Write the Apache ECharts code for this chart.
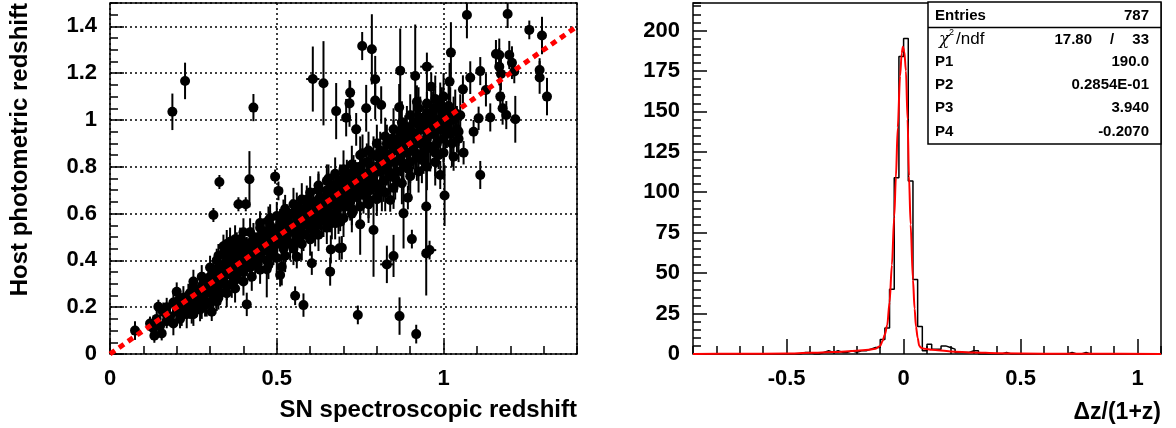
<!DOCTYPE html>
<html><head><meta charset="utf-8">
<script src="https://cdn.jsdelivr.net/npm/echarts@6/dist/echarts.min.js"></script>
<style>html,body{margin:0;padding:0;background:#fff}#c{width:1176px;height:428px}</style>
</head><body><div id="c"></div>
<script>
// ---- Left panel: host photo-z vs SN spec-z. [zSpec, zPhot, zPhotErr]
const bandPoints = [
[0.12,0.13,0.03],[0.13,0.11,0.03],[0.14,0.15,0.04],[0.15,0.12,0.03],[0.16,0.18,0.04],[0.17,0.14,0.03],[0.17,0.20,0.04],[0.18,0.16,0.04],[0.19,0.13,0.05],[0.19,0.22,0.04],
[0.20,0.18,0.04],[0.21,0.20,0.05],[0.21,0.15,0.04],[0.22,0.24,0.05],[0.22,0.19,0.04],[0.23,0.17,0.06],[0.23,0.22,0.04],[0.24,0.26,0.05],[0.24,0.20,0.05],[0.25,0.23,0.04],
[0.25,0.28,0.05],[0.26,0.21,0.05],[0.26,0.25,0.04],[0.27,0.27,0.05],[0.27,0.19,0.05],[0.28,0.24,0.05],[0.28,0.30,0.05],[0.29,0.26,0.04],[0.29,0.22,0.06],[0.30,0.28,0.05],
[0.30,0.33,0.05],[0.31,0.25,0.05],[0.31,0.30,0.04],[0.31,0.36,0.05],[0.32,0.28,0.05],[0.32,0.33,0.06],[0.32,0.40,0.05],[0.33,0.30,0.05],[0.33,0.35,0.04],[0.33,0.26,0.05],
[0.34,0.38,0.06],[0.34,0.32,0.05],[0.34,0.43,0.05],[0.35,0.36,0.05],[0.35,0.29,0.06],[0.35,0.40,0.04],[0.36,0.34,0.05],[0.36,0.45,0.06],[0.36,0.38,0.05],[0.37,0.31,0.05],
[0.37,0.42,0.05],[0.37,0.36,0.06],[0.38,0.40,0.05],[0.38,0.33,0.05],[0.38,0.46,0.06],[0.39,0.37,0.05],[0.39,0.43,0.05],[0.40,0.35,0.06],[0.40,0.41,0.05],[0.40,0.48,0.05],
[0.41,0.39,0.05],[0.41,0.44,0.06],[0.42,0.37,0.06],[0.42,0.47,0.05],[0.43,0.42,0.05],[0.43,0.50,0.06],[0.44,0.40,0.05],[0.44,0.45,0.06],[0.45,0.48,0.05],[0.45,0.42,0.06],
[0.46,0.52,0.06],[0.46,0.45,0.05],[0.47,0.40,0.06],[0.47,0.49,0.05],[0.48,0.46,0.06],[0.48,0.55,0.06],[0.49,0.50,0.05],[0.49,0.44,0.06],[0.50,0.52,0.06],[0.50,0.47,0.05],
[0.51,0.56,0.06],[0.51,0.50,0.05],[0.52,0.45,0.07],[0.52,0.53,0.06],[0.53,0.58,0.06],[0.53,0.50,0.06],[0.54,0.55,0.05],[0.54,0.47,0.07],[0.55,0.52,0.06],[0.55,0.60,0.06],
[0.56,0.56,0.06],[0.56,0.50,0.07],[0.57,0.62,0.06],[0.57,0.54,0.05],[0.58,0.58,0.06],[0.58,0.51,0.07],[0.59,0.56,0.06],[0.59,0.63,0.06],[0.60,0.60,0.06],[0.60,0.54,0.07],
[0.61,0.65,0.06],[0.61,0.58,0.06],[0.62,0.62,0.07],[0.62,0.55,0.06],[0.63,0.67,0.06],[0.63,0.60,0.07],[0.64,0.64,0.06],[0.64,0.57,0.07],[0.65,0.70,0.07],[0.65,0.62,0.06],
[0.66,0.66,0.07],[0.66,0.59,0.07],[0.67,0.72,0.06],[0.67,0.64,0.07],[0.68,0.68,0.07],[0.68,0.61,0.07],[0.69,0.74,0.07],[0.69,0.66,0.06],[0.70,0.70,0.07],[0.70,0.63,0.08],
[0.71,0.76,0.07],[0.71,0.68,0.07],[0.72,0.72,0.07],[0.72,0.65,0.08],[0.73,0.78,0.07],[0.73,0.70,0.07],[0.74,0.74,0.08],[0.74,0.67,0.07],[0.75,0.80,0.07],[0.75,0.72,0.08],
[0.76,0.76,0.07],[0.76,0.68,0.08],[0.77,0.82,0.08],[0.77,0.74,0.07],[0.78,0.78,0.08],[0.78,0.70,0.08],[0.79,0.85,0.08],[0.79,0.76,0.07],[0.80,0.80,0.08],[0.80,0.72,0.08],
[0.81,0.87,0.08],[0.81,0.78,0.08],[0.82,0.82,0.08],[0.82,0.74,0.09],[0.83,0.90,0.08],[0.83,0.80,0.08],[0.84,0.85,0.09],[0.84,0.76,0.08],[0.85,0.92,0.08],[0.85,0.82,0.09],
[0.86,0.87,0.08],[0.86,0.78,0.09],[0.87,0.95,0.09],[0.87,0.84,0.08],[0.88,0.89,0.09],[0.88,0.80,0.09],[0.89,0.97,0.09],[0.89,0.86,0.08],[0.90,0.92,0.09],[0.90,0.82,0.09],
[0.91,0.99,0.09],[0.91,0.88,0.09],[0.92,0.94,0.09],[0.92,0.84,0.10],[0.93,1.01,0.09],[0.93,0.90,0.09],[0.94,0.96,0.10],[0.94,0.86,0.09],[0.95,1.03,0.09],[0.95,0.92,0.10],
[0.96,0.98,0.09],[0.96,0.88,0.10],[0.97,1.05,0.10],[0.97,0.94,0.09],[0.98,1.00,0.10],[0.98,0.90,0.10],[0.99,1.07,0.09],[0.99,0.96,0.10],[1.00,1.02,0.10],[1.00,0.92,0.10],
[1.01,0.98,0.10],[1.02,1.04,0.10],[1.02,0.94,0.09],[1.03,1.00,0.10],[1.04,0.96,0.10],[1.05,1.02,0.09],
[0.205,0.23,0.04],[0.215,0.17,0.05],[0.225,0.21,0.04],[0.235,0.25,0.05],[0.245,0.18,0.05],[0.255,0.26,0.04],[0.265,0.23,0.05],[0.275,0.29,0.05],[0.285,0.21,0.05],[0.295,0.31,0.05],
[0.305,0.31,0.05],[0.315,0.27,0.05],[0.325,0.37,0.05],[0.335,0.33,0.06],[0.345,0.35,0.05],[0.355,0.42,0.05],[0.365,0.30,0.06],[0.375,0.39,0.05],[0.385,0.36,0.06],[0.395,0.45,0.05],
[0.405,0.38,0.05],[0.415,0.41,0.06],[0.425,0.44,0.05],[0.435,0.38,0.06],[0.445,0.50,0.05],[0.455,0.44,0.06],[0.465,0.47,0.05],[0.475,0.53,0.06],[0.485,0.43,0.06],[0.495,0.48,0.05],
[0.505,0.54,0.06],[0.515,0.47,0.06],[0.525,0.57,0.06],[0.535,0.52,0.05],[0.545,0.60,0.06],[0.555,0.48,0.06],[0.565,0.58,0.06],[0.575,0.52,0.07],[0.585,0.61,0.06],[0.595,0.55,0.06],
[0.605,0.63,0.07],[0.615,0.52,0.06],[0.625,0.66,0.06],[0.635,0.58,0.07],[0.645,0.62,0.06],[0.655,0.68,0.07],[0.665,0.56,0.07],[0.675,0.70,0.06],[0.685,0.64,0.07],[0.695,0.71,0.07],
[0.705,0.66,0.07],[0.715,0.74,0.08],[0.725,0.62,0.07],[0.735,0.76,0.07],[0.745,0.69,0.08],[0.755,0.78,0.07],[0.765,0.71,0.08],[0.775,0.66,0.08],[0.785,0.80,0.08],[0.795,0.73,0.08],
[0.805,0.84,0.08],[0.815,0.70,0.09],[0.825,0.86,0.08],[0.835,0.78,0.09],[0.845,0.89,0.08],[0.855,0.75,0.09],[0.865,0.91,0.09],[0.875,0.82,0.08],[0.885,0.93,0.09],[0.895,0.79,0.09],
[0.905,0.95,0.09],[0.915,0.86,0.09],[0.925,0.98,0.09],[0.935,0.83,0.10],[0.945,1.00,0.09],[0.955,0.89,0.09],[0.965,1.02,0.10],[0.975,0.86,0.10],[0.985,0.97,0.09],[0.995,1.04,0.10],
[1.005,0.95,0.10],[1.015,1.06,0.10],[1.025,0.90,0.10],[1.035,1.03,0.10],[1.045,0.92,0.10],[0.625,0.72,0.06],[0.655,0.75,0.06],[0.59,0.66,0.06],[0.56,0.63,0.06],[0.52,0.60,0.06],
[0.48,0.58,0.06],[0.45,0.56,0.05],[0.42,0.52,0.06],[0.39,0.49,0.05],[0.36,0.48,0.06],[0.34,0.46,0.05],
[0.25,0.17,0.05],[0.30,0.22,0.05],[0.35,0.26,0.06],[0.40,0.31,0.06],[0.45,0.36,0.06],[0.50,0.41,0.06],[0.55,0.45,0.07],[0.60,0.49,0.07],[0.65,0.54,0.07],[0.70,0.58,0.08],
[0.75,0.63,0.08],[0.80,0.67,0.08],[0.85,0.71,0.09],[0.90,0.76,0.09],[0.95,0.80,0.10],[1.00,0.86,0.10],
[0.25,0.31,0.05],[0.30,0.37,0.05],[0.35,0.47,0.06],[0.40,0.52,0.06],[0.45,0.54,0.06],[0.50,0.59,0.06],[0.55,0.64,0.07],[0.60,0.69,0.07],[0.65,0.74,0.07],[0.70,0.79,0.08],
[0.75,0.85,0.08],[0.80,0.90,0.08],[0.85,0.96,0.09],[0.90,1.02,0.09],[0.95,1.07,0.10],[1.00,1.10,0.10],
[0.275,0.20,0.05],[0.325,0.24,0.05],[0.375,0.28,0.06],[0.425,0.33,0.06],[0.475,0.38,0.06],[0.525,0.42,0.07],[0.575,0.47,0.07],[0.625,0.51,0.07],[0.675,0.56,0.07],[0.725,0.60,0.08],
[0.775,0.64,0.08],[0.825,0.69,0.08],[0.875,0.73,0.09],[0.925,0.78,0.09],[0.975,0.82,0.10],
[0.275,0.33,0.05],[0.325,0.42,0.05],[0.375,0.49,0.06],[0.425,0.48,0.06],[0.475,0.57,0.06],[0.525,0.62,0.06],[0.575,0.66,0.07],[0.625,0.70,0.07],[0.675,0.77,0.07],[0.725,0.81,0.08],
[0.775,0.87,0.08],[0.825,0.93,0.08],[0.875,0.99,0.09],[0.925,1.05,0.09],[0.975,1.09,0.10]
];
// [zSpec, zPhot, zPhotErr, zSpecErr]
const outlierPoints = [
[0.075,0.100,0.04,0],[0.133,0.078,0.03,0],[0.155,0.088,0.03,0],[0.125,0.117,0.03,0],[0.145,0.202,0.03,0],
[0.187,1.035,0.078,0],[0.225,1.167,0.078,0],[0.310,0.594,0.03,0],[0.328,0.735,0.03,0],[0.385,0.640,0.03,0.01],
[0.407,0.640,0.03,0.01],[0.418,0.747,0.12,0],[0.410,0.212,0.05,0],[0.430,1.053,0.058,0],[0.495,0.758,0.03,0],
[0.505,0.697,0.04,0],[0.470,0.362,0.12,0],[0.510,0.338,0.05,0],[0.515,0.373,0.08,0],[0.555,0.249,0.04,0],
[0.580,0.209,0.05,0],[0.560,0.416,0.05,0],[0.605,0.388,0.05,0],[0.660,0.352,0.06,0],[0.662,0.447,0.06,0],
[0.688,0.452,0.05,0],[0.608,1.175,0.139,0.02],[0.640,1.157,0.18,0],[0.678,1.038,0.12,0],[0.708,1.010,0.08,0],
[0.718,1.071,0.10,0],[0.720,1.117,0.05,0],[0.738,0.960,0.07,0],[0.756,1.316,0.06,0],[0.785,1.302,0.15,0],
[0.795,1.174,0.10,0],[0.795,1.083,0.08,0],[0.768,1.050,0.10,0],[0.813,1.064,0.08,0],[0.757,0.858,0.08,0],
[0.870,1.211,0.18,0],[0.867,1.054,0.10,0],[0.915,1.188,0.22,0],[0.950,1.228,0.06,0.02],[0.963,1.142,0.06,0],
[0.920,1.078,0.07,0],[1.022,1.288,0.13,0],[1.018,1.164,0.08,0],[1.058,1.131,0.06,0],[1.080,1.181,0.07,0],
[1.110,1.209,0.06,0],[1.105,1.007,0.05,0],[1.140,1.011,0.06,0],[1.127,1.128,0.07,0],[1.070,1.449,0.10,0],
[1.192,1.453,0.06,0],[1.257,1.385,0.04,0],[1.295,1.361,0.08,0],[1.157,1.282,0.06,0],[1.167,1.278,0.07,0],
[1.197,1.278,0.06,0],[1.205,1.245,0.07,0],[1.212,1.207,0.05,0],[1.167,1.228,0.08,0],[1.172,1.197,0.07,0],
[1.170,1.100,0.06,0],[1.177,1.050,0.07,0],[1.188,1.021,0.06,0],[1.215,1.003,0.10,0],[1.288,1.214,0.05,0],
[1.288,1.182,0.07,0],[1.310,1.100,0.08,0],[1.045,0.950,0.06,0],[1.022,1.007,0.06,0],[0.990,0.765,0.06,0],
[1.003,0.677,0.13,0],[1.110,0.765,0.06,0],[1.030,0.843,0.06,0],[0.985,0.850,0.06,0],[0.948,0.630,0.20,0],
[0.880,0.601,0.15,0],[0.893,0.668,0.05,0],[0.840,0.658,0.05,0],[0.800,0.661,0.05,0],[0.750,0.554,0.13,0],
[0.790,0.530,0.20,0],[0.905,0.491,0.04,0],[0.958,0.444,0.04,0.02],[0.948,0.430,0.18,0],[0.850,0.419,0.09,0],
[0.830,0.383,0.08,0.02],[0.695,0.454,0.05,0],[0.690,0.565,0.04,0],[0.743,0.167,0.04,0],[0.868,0.162,0.08,0],
[0.918,0.085,0.04,0],[0.685,0.573,0.06,0],[1.060,0.860,0.05,0],[1.090,0.950,0.05,0],[0.305,0.181,0.04,0],
[0.320,0.224,0.04,0],[0.200,0.266,0.04,0]
];
const diagonal = [[0,0],[1.4,1.4]];

// ---- Right panel: dz/(1+z) histogram
const binLow = -0.9;
const binWidth = 0.02;
const counts = [
0,0,0,0,0,0,0,0,0,0,0,0,0,0,0,0,0,0,0,0,0,0,0,
1,1,0,0,1,2,1,2,1,1,2,1,2,2,3,4,4,
9,16,40,109,184,195,107,46,17,2,
6,3,3,5,4,3,1,1,1,2,2,
0,0,0,0,0,
1,
0,0,0,0,0,0,0,0,0,0,0,0,0,
1,0,0,1,
0,0,0,0,0,0,0,0,0,0,0,0,0,0,0,0
];
const fitCurve = [
[-0.9,0.05],[-0.7,0.1],[-0.5,0.3],[-0.4,0.7],[-0.3,1.2],[-0.2,2.0],[-0.15,2.6],[-0.12,3.2],[-0.1,5],[-0.09,8],
[-0.08,12],[-0.07,18],[-0.06,32],[-0.05,55],[-0.04,85],[-0.033,109],[-0.025,140],[-0.015,172],[-0.008,186],[-0.003,190],
[0.003,187],[0.01,175],[0.017,145],[0.023,110],[0.03,80],[0.04,46],[0.047,28],[0.053,17],[0.06,10],[0.067,5],
[0.075,3.8],[0.09,3.2],[0.12,2.6],[0.2,1.6],[0.3,0.9],[0.4,0.5],[0.6,0.2],[0.8,0.1],[1.1,0.05]
];
const statsRows = [
  ['P1','190.0'],['P2','0.2854E-01'],['P3','3.940'],['P4','-0.2070']
];
const entries = '787';
const chi2 = '17.80', ndf = '33';

const FONT = '"Liberation Sans", Arial, Helvetica, sans-serif';
const allPoints = bandPoints.map(p => [p[0], p[1], p[2], 0]).concat(outlierPoints);
const histData = counts.map((c, i) => [binLow + i * binWidth, c]);
histData.push([binLow + counts.length * binWidth, counts[counts.length - 1]]);

const labelStyle = {color:'#000', fontFamily: FONT, fontWeight:'bold', fontSize:22};
function majorAxis(o){ return Object.assign({type:'value', axisLine:{show:false, onZero:false},
  axisTick:{show:true, inside:true, length:14, lineStyle:{color:'#000', width:1.5}},
  axisLabel:Object.assign({showMaxLabel:false}, labelStyle), splitLine:{show:false}}, o); }
function minorAxis(o){ return Object.assign({type:'value', axisLine:{show:false, onZero:false},
  axisTick:{show:true, inside:true, length:8, lineStyle:{color:'#000', width:1.5}},
  axisLabel:{show:false}, splitLine:{show:false}}, o); }
const dotted = {show:true, lineStyle:{color:'#000', width:1.5, type:[2,3]}};

const chart = echarts.init(document.getElementById('c'), null, {renderer:'canvas'});
chart.setOption({
  animation:false,
  backgroundColor:'#fff',
  grid:[
    {left:110, top:3, width:467, height:351, show:true, borderColor:'#000', borderWidth:1.5, backgroundColor:'transparent'},
    {left:693, top:3, width:468, height:351, show:true, borderColor:'#000', borderWidth:1.5, backgroundColor:'transparent'}
  ],
  xAxis:[
    majorAxis({gridIndex:0, position:'bottom', min:0, max:1.4, interval:0.5, splitLine:dotted,
      axisLabel:Object.assign({showMaxLabel:false, margin:14}, labelStyle)}),
    minorAxis({gridIndex:0, position:'bottom', min:0, max:1.4, interval:0.1}),
    majorAxis({gridIndex:1, position:'bottom', min:-0.9, max:1.1, interval:0.1,
      axisTick:{show:true, inside:true, length:15, customValues:[-0.5,0,0.5,1], lineStyle:{color:'#000', width:1.5}},
      axisLabel:Object.assign({customValues:[-0.5,0,0.5,1], margin:14}, labelStyle)}),
    minorAxis({gridIndex:1, position:'bottom', min:-0.9, max:1.1, interval:0.1})
  ],
  yAxis:[
    majorAxis({gridIndex:0, position:'left', min:0, max:1.5, interval:0.2, splitLine:dotted,
      axisLabel:Object.assign({showMaxLabel:false, margin:13}, labelStyle)}),
    minorAxis({gridIndex:0, position:'left', min:0, max:1.5, interval:0.05}),
    majorAxis({gridIndex:1, position:'left', min:0, max:217, interval:25,
      axisLabel:Object.assign({showMaxLabel:false, margin:13}, labelStyle)}),
    minorAxis({gridIndex:1, position:'left', min:0, max:217, interval:5})
  ],
  series:[
    {type:'custom', xAxisIndex:0, yAxisIndex:0, data:allPoints, clip:true, z:2, silent:true,
      encode:{x:0, y:1},
      renderItem:function(params, api){
        const x = api.value(0), y = api.value(1), ey = api.value(2), ex = api.value(3);
        const t = api.coord([x, y + ey]), b = api.coord([x, y - ey]);
        const ch = [{type:'line', shape:{x1:t[0], y1:t[1], x2:b[0], y2:b[1]}, style:{stroke:'#000', lineWidth:2}}];
        if (ex > 0) {
          const l = api.coord([x - ex, y]), r = api.coord([x + ex, y]);
          ch.push({type:'line', shape:{x1:l[0], y1:l[1], x2:r[0], y2:r[1]}, style:{stroke:'#000', lineWidth:2}});
        }
        return {type:'group', children:ch};
      }},
    {type:'scatter', xAxisIndex:0, yAxisIndex:0, data:allPoints.map(p => [p[0], p[1]]), symbol:'circle', symbolSize:10,
      itemStyle:{color:'#000', opacity:1}, z:3, silent:true},
    {type:'line', xAxisIndex:0, yAxisIndex:0, data:diagonal, symbol:'none', z:4, silent:true,
      lineStyle:{color:'#ff0000', width:5, type:[6,5]}},
    {type:'line', xAxisIndex:2, yAxisIndex:2, data:histData, step:'end', symbol:'none', z:3, silent:true,
      lineStyle:{color:'#000', width:1.5}},
    {type:'line', xAxisIndex:2, yAxisIndex:2, data:fitCurve, symbol:'none', smooth:0.3, smoothMonotone:'x', z:4, silent:true,
      lineStyle:{color:'#ff0000', width:2}}
  ],
  graphic:[
    {type:'text', x:577, y:410, style:{text:'SN spectroscopic redshift', font:'bold 24px ' + FONT, fill:'#000', align:'right', verticalAlign:'middle'}},
    {type:'text', x:20, y:3, rotation:Math.PI/2, style:{text:'Host photometric redshift', font:'bold 24px ' + FONT, fill:'#000', align:'right', verticalAlign:'middle'}},
    {type:'text', x:1161, y:413, style:{text:'\u0394z/(1+z)', font:'bold 23px ' + FONT, fill:'#000', align:'right', verticalAlign:'middle'}},
    {type:'rect', shape:{x:928, y:2, width:233, height:142}, style:{fill:'#fff', stroke:'#000', lineWidth:1.5}, z:10},
    {type:'line', shape:{x1:928, y1:27.5, x2:1161, y2:27.5}, style:{stroke:'#000', lineWidth:1.5}, z:11},
    {type:'text', x:935, y:15.5, z:11, style:{text:'Entries', font:'bold 15px ' + FONT, fill:'#000', align:'left', verticalAlign:'middle'}},
    {type:'text', x:1149, y:15.5, z:11, style:{text:entries, font:'bold 15px ' + FONT, fill:'#000', align:'right', verticalAlign:'middle'}},
    {type:'text', x:939, y:40, z:11, style:{text:'\u03C7', font:'italic 17px "DejaVu Serif", serif', fill:'#000', align:'left', verticalAlign:'middle'}},
    {type:'text', x:949, y:33, z:11, style:{text:'2', font:'9px ' + FONT, fill:'#000', align:'left', verticalAlign:'middle'}},
    {type:'text', x:956, y:39, z:11, style:{text:'/ndf', font:'17px ' + FONT, fill:'#000', align:'left', verticalAlign:'middle'}},
    {type:'text', x:1092, y:39.5, z:11, style:{text:chi2, font:'bold 15px ' + FONT, fill:'#000', align:'right', verticalAlign:'middle'}},
    {type:'text', x:1112, y:39.5, z:11, style:{text:'/', font:'bold 15px ' + FONT, fill:'#000', align:'center', verticalAlign:'middle'}},
    {type:'text', x:1149, y:39.5, z:11, style:{text:ndf, font:'bold 15px ' + FONT, fill:'#000', align:'right', verticalAlign:'middle'}}
  ].concat(statsRows.flatMap((r, i) => [
    {type:'text', x:935, y:61.5 + i * 23.3, z:11, style:{text:r[0], font:'bold 15px ' + FONT, fill:'#000', align:'left', verticalAlign:'middle'}},
    {type:'text', x:1149, y:61.5 + i * 23.3, z:11, style:{text:r[1], font:'bold 15px ' + FONT, fill:'#000', align:'right', verticalAlign:'middle'}}
  ]))
});
</script></body></html>
